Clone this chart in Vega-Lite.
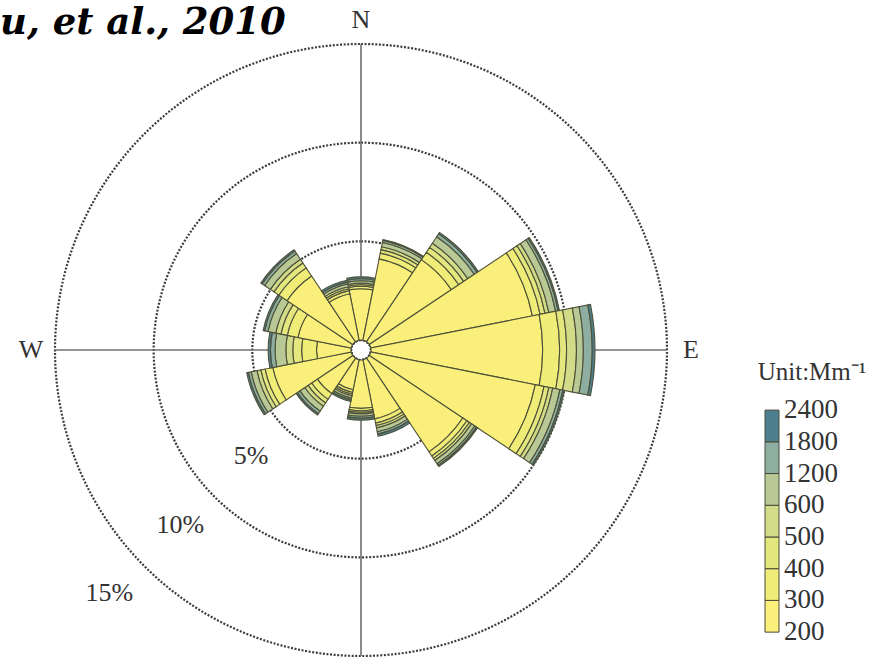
{
  "$schema": "https://vega.github.io/schema/vega-lite/v6.json",
  "autosize": {"type": "pad"},
  "padding": 0,
  "background": "white",
  "title": {
    "text": "u, et al., 2010",
    "anchor": "start",
    "frame": "group",
    "font": "DejaVu Serif",
    "fontSize": 37,
    "fontStyle": "italic",
    "fontWeight": "bold",
    "color": "black",
    "baseline": "alphabetic",
    "offset": -71
  },
  "config": {"view": {"stroke": null}},
  "spacing": 43,
  "bounds": "flush",
  "datasets": {
    "rose": [
      {"dir": 0, "lo": 200, "freq": 2.6}, {"dir": 0, "lo": 300, "freq": 0.12}, {"dir": 0, "lo": 400, "freq": 0.08}, {"dir": 0, "lo": 500, "freq": 0.08}, {"dir": 0, "lo": 600, "freq": 0.12}, {"dir": 0, "lo": 1200, "freq": 0.1}, {"dir": 0, "lo": 1800, "freq": 0.1},
      {"dir": 22.5, "lo": 200, "freq": 4.2}, {"dir": 22.5, "lo": 300, "freq": 0.3}, {"dir": 22.5, "lo": 400, "freq": 0.18}, {"dir": 22.5, "lo": 500, "freq": 0.15}, {"dir": 22.5, "lo": 600, "freq": 0.22}, {"dir": 22.5, "lo": 1200, "freq": 0.1}, {"dir": 22.5, "lo": 1800, "freq": 0.05},
      {"dir": 45, "lo": 200, "freq": 5.0}, {"dir": 45, "lo": 300, "freq": 0.45}, {"dir": 45, "lo": 400, "freq": 0.3}, {"dir": 45, "lo": 500, "freq": 0.25}, {"dir": 45, "lo": 600, "freq": 0.4}, {"dir": 45, "lo": 1200, "freq": 0.17}, {"dir": 45, "lo": 1800, "freq": 0.08},
      {"dir": 67.5, "lo": 200, "freq": 8.35}, {"dir": 67.5, "lo": 300, "freq": 0.4}, {"dir": 67.5, "lo": 400, "freq": 0.25}, {"dir": 67.5, "lo": 500, "freq": 0.2}, {"dir": 67.5, "lo": 600, "freq": 0.35}, {"dir": 67.5, "lo": 1200, "freq": 0.13}, {"dir": 67.5, "lo": 1800, "freq": 0.07},
      {"dir": 90, "lo": 200, "freq": 8.7}, {"dir": 90, "lo": 300, "freq": 0.86}, {"dir": 90, "lo": 400, "freq": 0.35}, {"dir": 90, "lo": 500, "freq": 0.5}, {"dir": 90, "lo": 600, "freq": 0.35}, {"dir": 90, "lo": 1200, "freq": 0.45}, {"dir": 90, "lo": 1800, "freq": 0.14},
      {"dir": 112.5, "lo": 200, "freq": 8.5}, {"dir": 112.5, "lo": 300, "freq": 0.45}, {"dir": 112.5, "lo": 400, "freq": 0.25}, {"dir": 112.5, "lo": 500, "freq": 0.2}, {"dir": 112.5, "lo": 600, "freq": 0.37}, {"dir": 112.5, "lo": 1200, "freq": 0.15}, {"dir": 112.5, "lo": 1800, "freq": 0.08},
      {"dir": 135, "lo": 200, "freq": 5.7}, {"dir": 135, "lo": 300, "freq": 0.25}, {"dir": 135, "lo": 400, "freq": 0.15}, {"dir": 135, "lo": 500, "freq": 0.13}, {"dir": 135, "lo": 600, "freq": 0.2}, {"dir": 135, "lo": 1200, "freq": 0.1}, {"dir": 135, "lo": 1800, "freq": 0.07},
      {"dir": 157.5, "lo": 200, "freq": 3.05}, {"dir": 157.5, "lo": 300, "freq": 0.22}, {"dir": 157.5, "lo": 400, "freq": 0.13}, {"dir": 157.5, "lo": 500, "freq": 0.12}, {"dir": 157.5, "lo": 600, "freq": 0.2}, {"dir": 157.5, "lo": 1200, "freq": 0.12}, {"dir": 157.5, "lo": 1800, "freq": 0.11},
      {"dir": 180, "lo": 200, "freq": 2.45}, {"dir": 180, "lo": 300, "freq": 0.12}, {"dir": 180, "lo": 400, "freq": 0.08}, {"dir": 180, "lo": 500, "freq": 0.08}, {"dir": 180, "lo": 600, "freq": 0.12}, {"dir": 180, "lo": 1200, "freq": 0.1}, {"dir": 180, "lo": 1800, "freq": 0.1},
      {"dir": 202.5, "lo": 200, "freq": 1.55}, {"dir": 202.5, "lo": 300, "freq": 0.14}, {"dir": 202.5, "lo": 400, "freq": 0.09}, {"dir": 202.5, "lo": 500, "freq": 0.08}, {"dir": 202.5, "lo": 600, "freq": 0.12}, {"dir": 202.5, "lo": 1200, "freq": 0.09}, {"dir": 202.5, "lo": 1800, "freq": 0.08},
      {"dir": 225, "lo": 200, "freq": 2.15}, {"dir": 225, "lo": 300, "freq": 0.35}, {"dir": 225, "lo": 400, "freq": 0.22}, {"dir": 225, "lo": 500, "freq": 0.2}, {"dir": 225, "lo": 600, "freq": 0.3}, {"dir": 225, "lo": 1200, "freq": 0.15}, {"dir": 225, "lo": 1800, "freq": 0.08},
      {"dir": 247.5, "lo": 200, "freq": 4.05}, {"dir": 247.5, "lo": 300, "freq": 0.4}, {"dir": 247.5, "lo": 400, "freq": 0.22}, {"dir": 247.5, "lo": 500, "freq": 0.2}, {"dir": 247.5, "lo": 600, "freq": 0.3}, {"dir": 247.5, "lo": 1200, "freq": 0.15}, {"dir": 247.5, "lo": 1800, "freq": 0.08},
      {"dir": 270, "lo": 200, "freq": 1.75}, {"dir": 270, "lo": 300, "freq": 0.75}, {"dir": 270, "lo": 400, "freq": 0.45}, {"dir": 270, "lo": 500, "freq": 0.35}, {"dir": 270, "lo": 600, "freq": 0.55}, {"dir": 270, "lo": 1200, "freq": 0.23}, {"dir": 270, "lo": 1800, "freq": 0.12},
      {"dir": 292.5, "lo": 200, "freq": 2.75}, {"dir": 292.5, "lo": 300, "freq": 0.55}, {"dir": 292.5, "lo": 400, "freq": 0.33}, {"dir": 292.5, "lo": 500, "freq": 0.27}, {"dir": 292.5, "lo": 600, "freq": 0.4}, {"dir": 292.5, "lo": 1200, "freq": 0.17}, {"dir": 292.5, "lo": 1800, "freq": 0.08},
      {"dir": 315, "lo": 200, "freq": 4.0}, {"dir": 315, "lo": 300, "freq": 0.5}, {"dir": 315, "lo": 400, "freq": 0.3}, {"dir": 315, "lo": 500, "freq": 0.22}, {"dir": 315, "lo": 600, "freq": 0.35}, {"dir": 315, "lo": 1200, "freq": 0.15}, {"dir": 315, "lo": 1800, "freq": 0.08},
      {"dir": 337.5, "lo": 200, "freq": 2.4}, {"dir": 337.5, "lo": 300, "freq": 0.16}, {"dir": 337.5, "lo": 400, "freq": 0.1}, {"dir": 337.5, "lo": 500, "freq": 0.1}, {"dir": 337.5, "lo": 600, "freq": 0.14}, {"dir": 337.5, "lo": 1200, "freq": 0.1}, {"dir": 337.5, "lo": 1800, "freq": 0.1}
    ],
    "rings": [
      {"pct": 5, "label": "5%"},
      {"pct": 10, "label": "10%"},
      {"pct": 15, "label": "15%"}
    ],
    "axes": [
      {"dir": 0}, {"dir": 90}, {"dir": 180}, {"dir": 270}
    ],
    "compass": [
      {"dir": 0, "label": "N"},
      {"dir": 90, "label": "E"},
      {"dir": 270, "label": "W"}
    ],
    "classes": [
      {"k": 0, "v": 200}, {"k": 1, "v": 300}, {"k": 2, "v": 400}, {"k": 3, "v": 500},
      {"k": 4, "v": 600}, {"k": 5, "v": 1200}, {"k": 6, "v": 1800}, {"k": 7, "v": 2400}
    ]
  },
  "hconcat": [
    {
      "width": 722,
      "height": 700,
      "layer": [
        {
          "data": {"name": "rings"},
          "mark": {"type": "arc", "theta": 0, "theta2": 6.2832, "filled": false, "stroke": "#3d3d3d", "strokeWidth": 2.2, "strokeDash": [2, 1.6]},
          "encoding": {
            "radius": {"field": "pct", "type": "quantitative", "stack": null, "scale": {"type": "linear", "domain": [0, 15], "range": [10, 306]}}
          }
        },
        {
          "data": {"name": "axes"},
          "mark": {"type": "arc", "filled": false, "stroke": "#707070", "strokeWidth": 1.6},
          "encoding": {
            "theta": {"field": "dir", "type": "quantitative", "stack": null, "scale": {"domain": [0, 360], "range": [0, 6.2832]}},
            "theta2": {"field": "dir"},
            "radius": {"datum": 15, "type": "quantitative", "stack": null, "scale": {"type": "linear", "domain": [0, 15], "range": [10, 306]}}
          }
        },
        {
          "data": {"name": "rose"},
          "transform": [
            {"window": [{"op": "sum", "field": "freq", "as": "cum"}], "groupby": ["dir"], "sort": [{"field": "lo"}], "frame": [null, 0]},
            {"calculate": "datum.cum - datum.freq", "as": "cum0"},
            {"calculate": "datum.dir - 11.25", "as": "a0"},
            {"calculate": "datum.dir + 11.25", "as": "a1"}
          ],
          "mark": {"type": "arc", "stroke": "#4e5038", "strokeWidth": 1.1},
          "encoding": {
            "theta": {"field": "a0", "type": "quantitative", "stack": null, "scale": {"domain": [0, 360], "range": [0, 6.2832]}},
            "theta2": {"field": "a1"},
            "radius": {"field": "cum", "type": "quantitative", "stack": null, "scale": {"type": "linear", "domain": [0, 15], "range": [10, 306]}},
            "radius2": {"field": "cum0"},
            "color": {
              "field": "lo", "type": "ordinal", "legend": null,
              "scale": {"domain": [200, 300, 400, 500, 600, 1200, 1800], "range": ["#f9ef7a", "#f0ec78", "#e4e67e", "#d2dc88", "#b9c996", "#8daea0", "#4c7f8e"]}
            }
          }
        },
        {
          "data": {"name": "compass"},
          "mark": {"type": "text", "font": "Liberation Serif", "fontSize": 26, "color": "#333333", "radiusOffset": 24},
          "encoding": {
            "theta": {"field": "dir", "type": "quantitative", "stack": null, "scale": {"domain": [0, 360], "range": [0, 6.2832]}},
            "radius": {"datum": 15, "type": "quantitative", "stack": null, "scale": {"type": "linear", "domain": [0, 15], "range": [10, 306]}},
            "text": {"field": "label"}
          }
        },
        {
          "data": {"name": "rings"},
          "mark": {"type": "text", "font": "Liberation Serif", "fontSize": 26, "color": "#333333", "radiusOffset": 44},
          "encoding": {
            "theta": {"datum": 226, "type": "quantitative", "stack": null, "scale": {"domain": [0, 360], "range": [0, 6.2832]}},
            "radius": {"field": "pct", "type": "quantitative", "stack": null, "scale": {"type": "linear", "domain": [0, 15], "range": [10, 306]}},
            "text": {"field": "label"}
          }
        }
      ]
    },
    {
      "width": 14,
      "height": 700,
      "data": {"name": "classes"},
      "layer": [
        {
          "transform": [{"filter": "datum.k < 7"}, {"calculate": "datum.k + 1", "as": "k1"}],
          "mark": {"type": "rect", "stroke": "#4a4a3a", "strokeWidth": 1},
          "encoding": {
            "x": {"datum": 0, "type": "quantitative", "scale": {"domain": [0, 1]}, "axis": null},
            "x2": {"datum": 1},
            "y": {"field": "k", "type": "quantitative", "scale": {"domain": [-2.14, 19.93]}, "axis": null},
            "y2": {"field": "k1"},
            "color": {
              "field": "v", "type": "ordinal", "legend": null,
              "scale": {"domain": [200, 300, 400, 500, 600, 1200, 1800], "range": ["#f9ef7a", "#f0ec78", "#e4e67e", "#d2dc88", "#b9c996", "#8daea0", "#4c7f8e"]}
            }
          }
        },
        {
          "mark": {"type": "text", "align": "left", "dx": 5, "font": "Liberation Serif", "fontSize": 27, "color": "#333333"},
          "encoding": {
            "x": {"datum": 1, "type": "quantitative", "scale": {"domain": [0, 1]}, "axis": null},
            "y": {"field": "k", "type": "quantitative", "scale": {"domain": [-2.14, 19.93]}, "axis": null},
            "text": {"field": "v", "type": "nominal"}
          }
        },
        {
          "data": {"values": [{"unit": "Unit:Mm⁻¹"}]},
          "mark": {"type": "text", "align": "center", "dx": 40, "font": "Liberation Serif", "fontSize": 25, "color": "#333333"},
          "encoding": {
            "x": {"datum": 0.5, "type": "quantitative", "scale": {"domain": [0, 1]}, "axis": null},
            "y": {"datum": 8.2, "type": "quantitative", "scale": {"domain": [-2.14, 19.93]}, "axis": null},
            "text": {"field": "unit"}
          }
        }
      ]
    }
  ]
}
